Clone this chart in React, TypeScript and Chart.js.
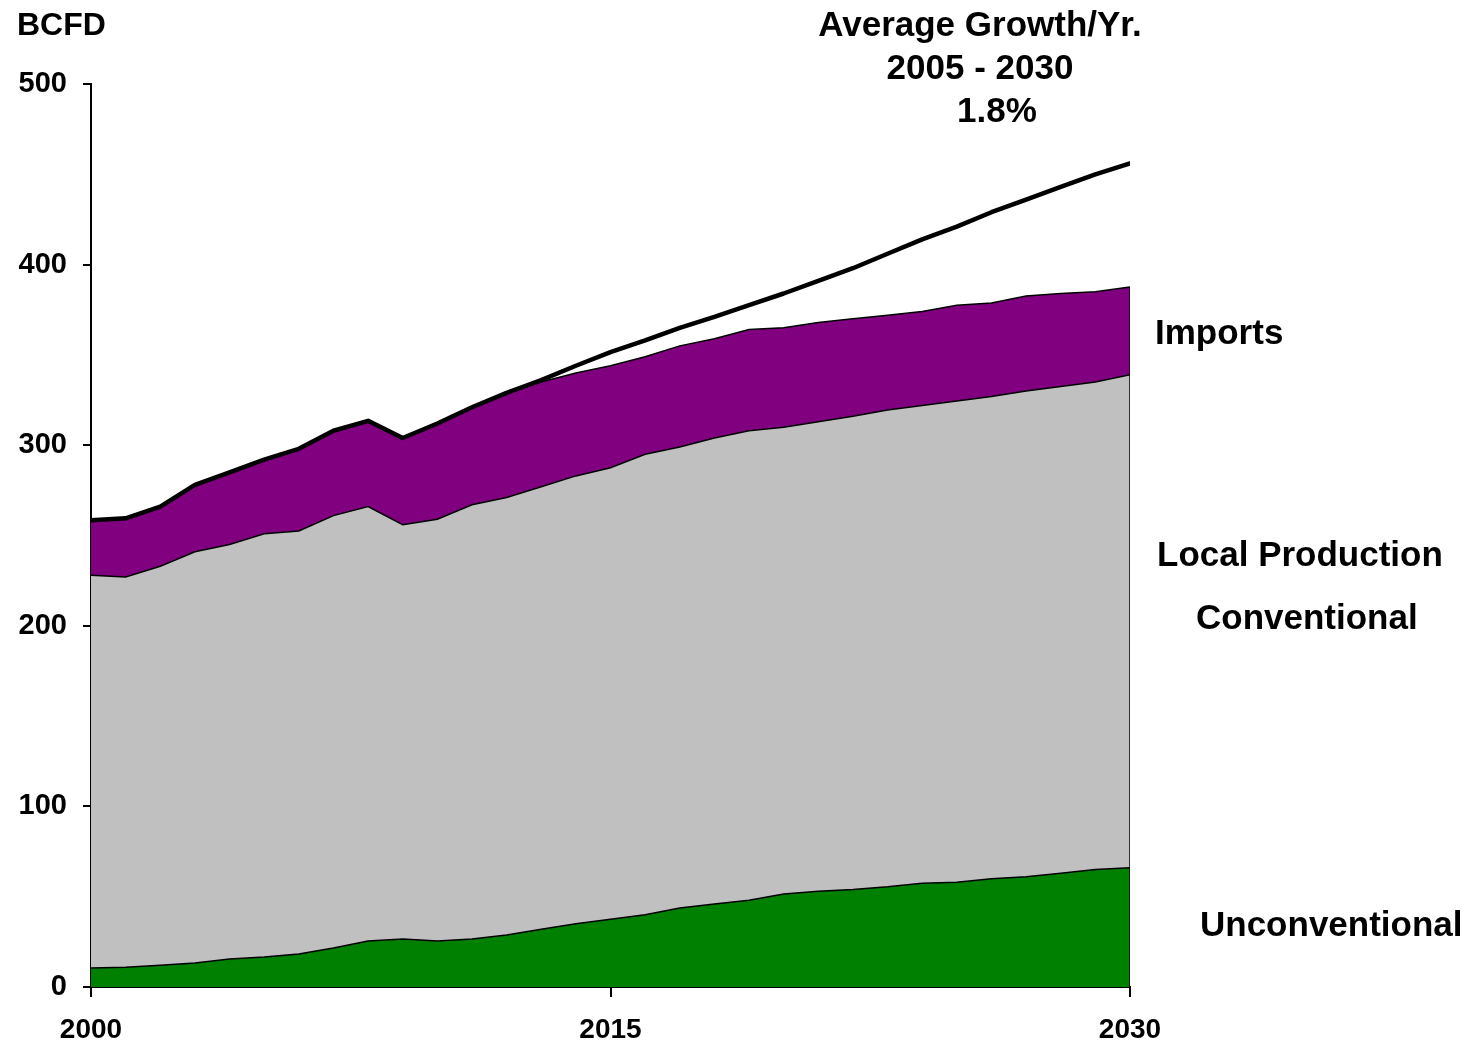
import React, { useEffect, useRef } from 'react';
import { Chart, registerables } from 'chart.js';

Chart.register(...registerables);

// ---- data ----
const years = [
  2000, 2001, 2002, 2003, 2004, 2005, 2006, 2007, 2008, 2009, 2010,
  2011, 2012, 2013, 2014, 2015, 2016, 2017, 2018, 2019, 2020,
  2021, 2022, 2023, 2024, 2025, 2026, 2027, 2028, 2029, 2030,
];
const unconventional = [
  10.5, 11, 12, 13.3, 15.5, 16.6, 18.3, 21.6, 25.5, 26.6, 25.5,
  26.6, 28.8, 32, 35, 37.5, 40, 43.7, 46, 48, 51.5,
  53, 54, 55.5, 57.5, 58, 60, 61, 63, 65, 66,
];
const conventional = [
  217.5, 216, 221, 227.7, 229.5, 234.4, 234.2, 239.4, 240.5, 229.4, 233.5,
  240.4, 242.2, 245, 248, 250, 255, 255.3, 258, 260, 258.5,
  260, 262, 264, 264.5, 266.5, 267, 269, 269.5, 270, 273,
];
const imports = [
  30.5, 32.5, 33, 37, 40, 41, 45.5, 47, 47.5, 48, 53,
  54, 58, 58, 57, 56.5, 54, 56, 55, 56, 55,
  55, 54, 52.5, 52, 53, 51.7, 52.6, 51.5, 50, 48.6,
];
const totalDemand = [
  258.5, 259.5, 266, 278, 285, 292, 298, 308, 313.5, 304, 312,
  321, 329, 336, 344, 351.5, 358, 365, 371, 377.5, 384,
  391, 398, 406, 414, 421, 429, 436, 443, 450, 456,
];
const xTickYears = [2000, 2015, 2030];
const yTickValues = [0, 100, 200, 300, 400, 500];
const seriesNames = ['Unconventional', 'Conventional', 'Imports', 'Total'];
const titleLines = ['Average Growth/Yr.', '2005 - 2030', '1.8%'];
const yUnit = 'BCFD';
const sideLabels = ['Imports', 'Local Production', 'Conventional', 'Unconventional'];

const FONT = '"Liberation Sans", Arial, Helvetica, sans-serif';

const toPoints = (vals: number[]) => years.map((x, i) => ({ x, y: vals[i] }));

const textPlugin = {
  id: 'annotText',
  afterDraw(chart: any) {
    const ctx = chart.ctx as CanvasRenderingContext2D;
    ctx.save();
    ctx.fillStyle = '#000';
    ctx.textBaseline = 'middle';
    // unit
    ctx.font = `bold 32px ${FONT}`;
    ctx.textAlign = 'left';
    ctx.fillText(yUnit, 17, 26);
    // title
    ctx.font = `bold 35px ${FONT}`;
    ctx.textAlign = 'center';
    ctx.fillText(titleLines[0], 980, 26);
    ctx.fillText(titleLines[1], 980, 69);
    ctx.fillText(titleLines[2], 997, 112);
    // side labels
    ctx.textAlign = 'left';
    ctx.fillText(sideLabels[0], 1155, 334);
    ctx.fillText(sideLabels[1], 1157, 556);
    ctx.fillText(sideLabels[2], 1196, 619);
    ctx.fillText(sideLabels[3], 1200, 926);
    ctx.restore();
  },
};

export default function App() {
  const ref = useRef<HTMLCanvasElement>(null);

  useEffect(() => {
    if (!ref.current) return;
    const last = years.length - 1;
    const stackTop = unconventional[last] + conventional[last] + imports[last];
    const chart = new Chart(ref.current, {
      type: 'line',
      data: {
        datasets: [
          {
            label: seriesNames[3],
            data: toPoints(totalDemand),
            stack: 'total',
            fill: false,
            borderColor: '#000',
            borderWidth: 4.5,
            borderJoinStyle: 'round',
            borderCapStyle: 'round',
            pointRadius: 0,
            tension: 0,
          },
          {
            label: 'edge',
            data: [
              { x: years[last], y: 0 },
              { x: years[last], y: stackTop },
            ],
            stack: 'edge',
            fill: false,
            borderColor: '#000',
            borderWidth: 1.5,
            pointRadius: 0,
          },
          {
            label: seriesNames[0],
            data: toPoints(unconventional),
            stack: 'areas',
            fill: 'origin',
            backgroundColor: '#008000',
            borderColor: '#000',
            borderWidth: 1.5,
            pointRadius: 0,
            tension: 0,
          },
          {
            label: seriesNames[1],
            data: toPoints(conventional),
            stack: 'areas',
            fill: 2,
            backgroundColor: '#C0C0C0',
            borderColor: '#000',
            borderWidth: 1.5,
            pointRadius: 0,
            tension: 0,
          },
          {
            label: seriesNames[2],
            data: toPoints(imports),
            stack: 'areas',
            fill: 3,
            backgroundColor: '#800080',
            borderColor: '#000',
            borderWidth: 1.5,
            pointRadius: 0,
            tension: 0,
          },
        ] as any,
      },
      options: {
        animation: false,
        responsive: false,
        devicePixelRatio: 1,
        layout: { padding: { top: 84, right: 340, bottom: 0, left: 0 } },
        plugins: {
          legend: { display: false },
          tooltip: { enabled: false },
          title: { display: false },
        },
        scales: {
          x: {
            type: 'linear',
            z: 1,
            min: years[0],
            max: years[years.length - 1],
            afterBuildTicks: (s: any) => {
              s.ticks = xTickYears.map((v) => ({ value: v }));
            },
            afterFit: (s: any) => {
              s.height = 58;
            },
            grid: {
              display: true,
              drawOnChartArea: false,
              drawTicks: true,
              tickLength: 10,
              color: '#000',
              lineWidth: 2,
            },
            border: { display: true, color: '#000', width: 2 },
            ticks: {
              maxRotation: 0,
              autoSkip: false,
              padding: 16,
              color: '#000',
              font: { family: FONT, size: 28, weight: 'bold' },
              callback: (v: any) => String(v),
            },
          },
          y: {
            type: 'linear',
            z: 1,
            stacked: true,
            min: 0,
            max: 500,
            afterBuildTicks: (s: any) => {
              s.ticks = yTickValues.map((v) => ({ value: v }));
            },
            afterFit: (s: any) => {
              s.width = 91;
            },
            grid: {
              display: true,
              drawOnChartArea: false,
              drawTicks: true,
              tickLength: 8,
              color: '#000',
              lineWidth: 2,
            },
            border: { display: true, color: '#000', width: 2 },
            ticks: {
              padding: 16,
              color: '#000',
              font: { family: FONT, size: 29, weight: 'bold' },
              callback: (v: any) => String(v),
            },
          },
        },
      } as any,
      plugins: [textPlugin],
    });
    return () => chart.destroy();
  }, []);

  return (
    <div style={{ position: 'absolute', left: 0, top: 0, width: 1470, height: 1045, background: '#fff' }}>
      <canvas ref={ref} width={1470} height={1045} style={{ display: 'block' }} />
    </div>
  );
}
